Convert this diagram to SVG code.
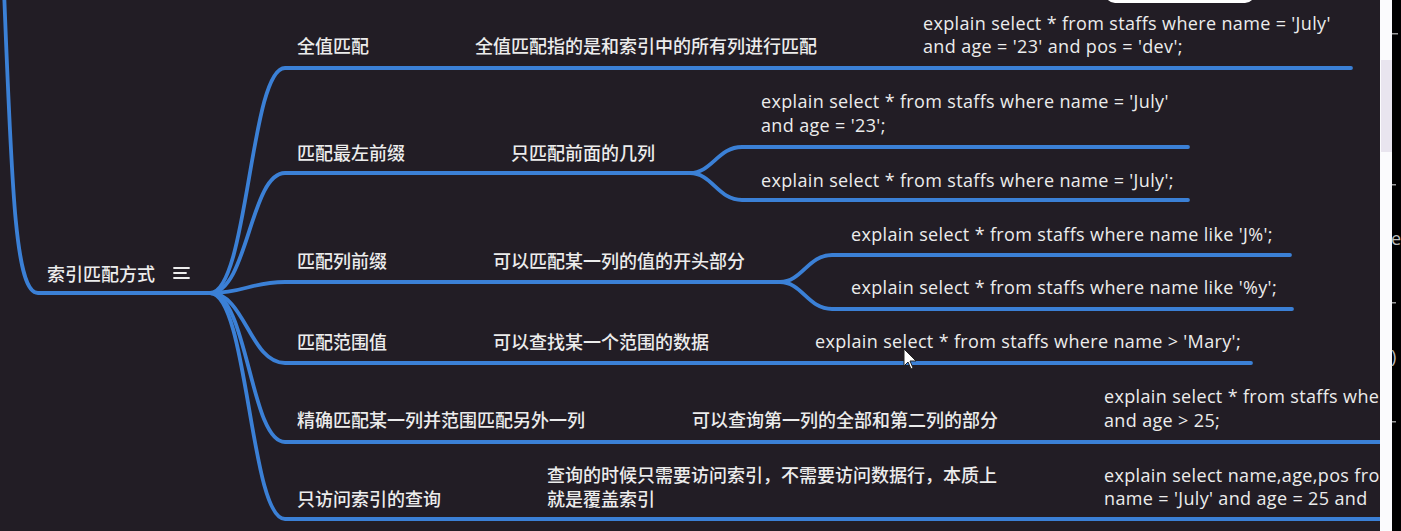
<svg xmlns="http://www.w3.org/2000/svg" width="1401" height="531" viewBox="0 0 1401 531">
<defs>
<style>
.bg{fill:#221d25}
.ln{fill:none;stroke:#3b80d6;stroke-width:3.8;stroke-linecap:round;stroke-linejoin:round}
.zh{font-family:"Noto Sans CJK SC","Noto Sans",sans-serif;font-size:18px;font-weight:500;fill:#ececec}
.en{font-family:"Open Sans","Noto Sans",sans-serif;font-size:18px;letter-spacing:0.35px;fill:#ececec}
.edge{font-family:"Open Sans",sans-serif;font-size:18px;fill:#bdbdbd}
</style>
<clipPath id="main"><rect x="0" y="0" width="1380" height="531"/></clipPath>
</defs>
<rect class="bg" x="0" y="0" width="1401" height="531"/>
<rect x="1105" y="-20" width="150" height="23" rx="10" fill="#ffffff"/>
<g clip-path="url(#main)">
<g id="connectors">
<path class="ln" d="M4 -10 C 12 200, 16 293, 38 293 L 210 293"/>
<path class="ln" d="M210 293 C 248 293, 250 68, 285 68 L 1351 68"/>
<path class="ln" d="M210 293 C 248 293, 250 173, 285 173 L 690 173"/>
<path class="ln" d="M690 173 C 712 173, 718 147, 742 147 L 1188 147"/>
<path class="ln" d="M690 173 C 712 173, 718 200, 742 200 L 1188 200"/>
<path class="ln" d="M210 293 C 245 293, 250 282, 285 282 L 780 282"/>
<path class="ln" d="M780 282 C 802 282, 808 255, 832 255 L 1290 255"/>
<path class="ln" d="M780 282 C 802 282, 808 309, 832 309 L 1292 309"/>
<path class="ln" d="M210 293 C 245 293, 250 363, 285 363 L 1251 363"/>
<path class="ln" d="M210 293 C 248 293, 250 442, 285 442 L 1385 442"/>
<path class="ln" d="M210 293 C 248 293, 250 519, 285 519 L 1385 519"/>
</g>
<g id="root">
<text class="zh" x="47" y="281">索引匹配方式</text>
<g stroke="#ececec" stroke-width="1.8" stroke-linecap="round">
<line x1="174" y1="268" x2="189" y2="268"/>
<line x1="174" y1="273" x2="186" y2="273"/>
<line x1="174" y1="278" x2="189" y2="278"/>
</g>
</g>
<g id="n1">
<text class="zh" x="297" y="53">全值匹配</text>
<text class="zh" x="475" y="53">全值匹配指的是和索引中的所有列进行匹配</text>
<text class="en" x="923" y="30">explain select * from staffs where name = 'July'</text>
<text class="en" x="923" y="53">and age = '23' and pos = 'dev';</text>
</g>
<g id="n2">
<text class="zh" x="297" y="160">匹配最左前缀</text>
<text class="zh" x="511" y="160">只匹配前面的几列</text>
<text class="en" x="761" y="108">explain select * from staffs where name = 'July'</text>
<text class="en" x="761" y="132">and age = '23';</text>
<text class="en" x="761" y="187">explain select * from staffs where name = 'July';</text>
</g>
<g id="n3">
<text class="zh" x="297" y="268">匹配列前缀</text>
<text class="zh" x="493" y="268">可以匹配某一列的值的开头部分</text>
<text class="en" x="851" y="241">explain select * from staffs where name like 'J%';</text>
<text class="en" x="851" y="294">explain select * from staffs where name like '%y';</text>
</g>
<g id="n4">
<text class="zh" x="297" y="349">匹配范围值</text>
<text class="zh" x="493" y="349">可以查找某一个范围的数据</text>
<text class="en" x="815" y="348">explain select * from staffs where name &gt; 'Mary';</text>
</g>
<g id="n5">
<text class="zh" x="297" y="427">精确匹配某一列并范围匹配另外一列</text>
<text class="zh" x="692" y="427">可以查询第一列的全部和第二列的部分</text>
<text class="en" x="1104" y="403">explain select * from staffs whe</text>
<text class="en" x="1104" y="427">and age &gt; 25;</text>
</g>
<g id="n6">
<text class="zh" x="297" y="506">只访问索引的查询</text>
<text class="zh" x="547" y="482">查询的时候只需要访问索引，不需要访问数据行，本质上</text>
<text class="zh" x="547" y="506">就是覆盖索引</text>
<text class="en" x="1104" y="482">explain select name,age,pos fro</text>
<text class="en" x="1104" y="505">name = 'July' and age = 25 and</text>
</g>
</g>
<path d="M904 349 L904 366 L908 362 L911 369 L913 368 L910 361 L916 361 Z" fill="#ffffff" stroke="#222" stroke-width="1"/>
<rect x="1380" y="0" width="12" height="531" fill="#fbfbfd"/>
<rect x="1381" y="60" width="11" height="92" fill="#e9e5ef"/>
<rect x="1392" y="0" width="9" height="531" fill="#000000"/>
<g fill="#9a9a9a">
<rect x="1392" y="33" width="6" height="1.5"/>
<rect x="1392" y="184" width="4" height="1.5"/>
<rect x="1392" y="302" width="4" height="1.5"/>
<rect x="1392" y="421" width="4" height="1.5"/>
</g>
<text class="edge" x="1391" y="245">e</text>
<text class="edge" x="1391" y="363">)</text>
</svg>
